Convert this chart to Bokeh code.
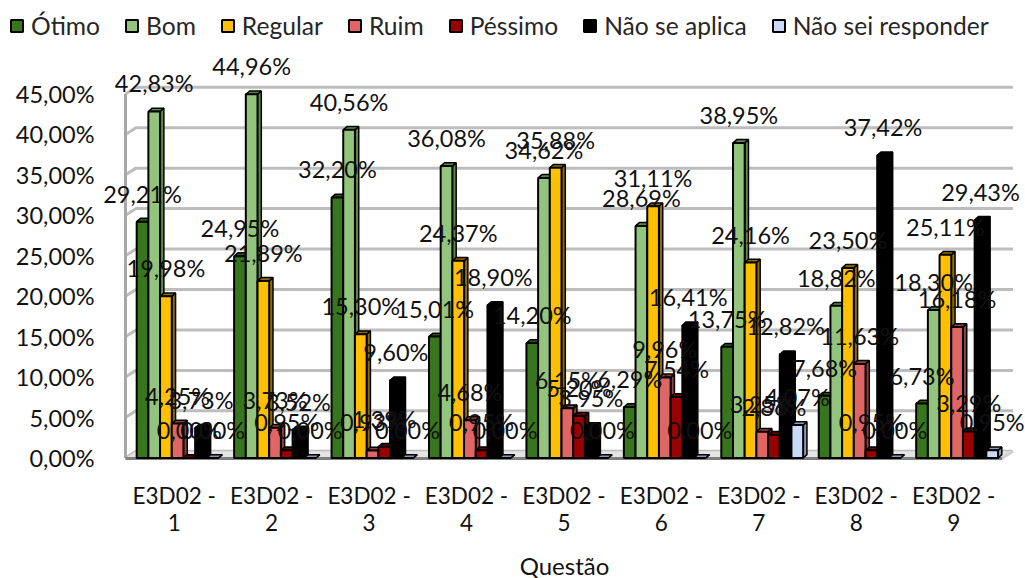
from bokeh.plotting import figure
from bokeh.models import Range1d, FixedTicker, Legend, LegendItem, ColumnDataSource
from bokeh.core.properties import value
from bokeh.embed import file_html
from bokeh.resources import INLINE

categories = ["E3D02 -\n1", "E3D02 -\n2", "E3D02 -\n3", "E3D02 -\n4", "E3D02 -\n5",
              "E3D02 -\n6", "E3D02 -\n7", "E3D02 -\n8", "E3D02 -\n9"]
otimo = [29.21, 24.95, 32.20, 15.01, 14.20, 6.29, 13.75, 7.68, 6.73]
bom = [42.83, 44.96, 40.56, 36.08, 34.62, 28.69, 38.95, 18.82, 18.30]
regular = [19.98, 21.89, 15.30, 24.37, 35.88, 31.11, 24.16, 23.50, 25.11]
ruim = [4.25, 3.73, 0.93, 4.68, 6.15, 9.96, 3.25, 11.63, 16.18]
pessimo = [0.00, 0.95, 1.39, 0.95, 5.20, 7.54, 2.86, 0.95, 3.29]
nao_aplica = [3.73, 3.52, 9.60, 18.90, 3.95, 16.41, 12.82, 37.42, 29.43]
nao_sei = [0.00, 0.00, 0.00, 0.00, 0.00, 0.00, 4.07, 0.00, 0.95]
y_ticks = [0, 5, 10, 15, 20, 25, 30, 35, 40, 45]

series = [("Ótimo", otimo, "#38761d", "#2a5916"),
          ("Bom", bom, "#93c47d", "#5a8a48"),
          ("Regular", regular, "#ffc000", "#8f6c00"),
          ("Ruim", ruim, "#e06666", "#8f4040"),
          ("Péssimo", pessimo, "#990000", "#660000"),
          ("Não se aplica", nao_aplica, "#000000", "#000000"),
          ("Não sei responder", nao_sei, "#c9daf8", "#8a98b3")]

FONT = "Lato"
FS = "23.5px"
BAR_W = 0.12
SHIFT = 0.035
DX, DY = 0.039, 0.41      # bar depth in data units
WX, WY = 0.108, 0.83      # chart depth in data units

p = figure(width=1025, height=578, output_backend="svg", toolbar_location=None,
           x_range=Range1d(-0.7826, 9.737), y_range=Range1d(-14.895, 56.55),
           min_border_left=0, min_border_right=0, min_border_top=0, min_border_bottom=0,
           outline_line_color=None, background_fill_color="white", border_fill_color="white")
p.grid.visible = False

# chart walls
gx, gy = [], []
for t in y_ticks:
    gx.append([0.5, 0.5 + WX, 9.5 + WX])
    gy.append([t, t + WY, t + WY])
p.multi_line(gx, gy, line_color="#bdbdbd", line_width=3)
p.line([0.5, 0.5], [0, 45], line_color="#a6a6a6", line_width=3)
p.patch([0.5, 0.5 + WX, 9.5 + WX, 9.5], [0, WY, WY, 0], fill_color="#e4e4e4", line_color=None)
p.line([0.5, 9.5], [-0.05, -0.05], line_color="#7f7f7f", line_width=3)
p.line([9.5, 9.5 + WX], [0, WY], line_color="#d0d0d0", line_width=3)

items = []
for k, (name, vals, col, dark) in enumerate(series):
    xs = [i + 1 + SHIFT + (k - 3) * BAR_W for i in range(len(vals))]
    hw = BAR_W / 2
    sx = [[x + hw, x + hw + DX, x + hw + DX, x + hw] for x in xs]
    sy = [[0, DY, v + DY, v] for v in vals]
    tx = [[x - hw, x - hw + DX, x + hw + DX, x + hw] for x in xs]
    ty = [[v, v + DY, v + DY, v] for v in vals]
    p.patches(sx, sy, fill_color=dark, line_color="black", line_width=1.5)
    p.patches(tx, ty, fill_color=dark, line_color="black", line_width=1.5)
    r = p.vbar(x=xs, top=vals, bottom=0, width=BAR_W, fill_color=col,
               line_color="black", line_width=2)
    items.append(LegendItem(label=name, renderers=[r]))

# data labels on top of everything
for k, (name, vals, col, dark) in enumerate(series):
    xs = [i + 1 + SHIFT + (k - 3) * BAR_W for i in range(len(vals))]
    src = ColumnDataSource(dict(x=xs, y=vals, t=[f"{v:.2f}%".replace(".", ",") for v in vals]))
    p.text("x", "y", text="t", source=src, text_align="center", text_baseline="middle",
           y_offset=-28, text_font=value(FONT), text_font_size=FS, text_color="#111111")

legend = Legend(items=items, orientation="horizontal", location=(9, 538),
                glyph_width=15, glyph_height=15, label_standoff=7, spacing=24,
                margin=0, padding=0, border_line_color=None, background_fill_alpha=0,
                label_text_font=FONT, label_text_font_size="24.6px", label_text_color="#262626")
p.add_layout(legend, "center")

yax = p.yaxis[0]
yax.fixed_location = 0.2436
yax.ticker = FixedTicker(ticks=y_ticks)
yax.major_label_overrides = {t: f"{t:.2f}%".replace(".", ",") for t in y_ticks}
yax.axis_line_color = None
yax.major_tick_line_color = None
yax.minor_tick_line_color = None
yax.major_label_standoff = 0
yax.major_label_text_font = FONT
yax.major_label_text_font_size = FS
yax.major_label_text_color = "#111111"

xax = p.xaxis[0]
xax.fixed_location = -0.309
xax.bounds = (0.5, 9.512)
xax.ticker = FixedTicker(ticks=list(range(1, 10)))
xax.major_label_overrides = {i + 1: c for i, c in enumerate(categories)}
xax.axis_line_color = None
xax.major_tick_line_color = None
xax.minor_tick_line_color = None
xax.major_label_standoff = 16
xax.major_label_text_font = FONT
xax.major_label_text_font_size = "22.5px"
xax.major_label_text_line_height = 1.0
xax.major_label_text_color = "#111111"
xax.axis_label = "Questão"
xax.axis_label_standoff = 11
xax.axis_label_text_font = FONT
xax.axis_label_text_font_size = "24px"
xax.axis_label_text_font_style = "normal"
xax.axis_label_text_color = "#111111"

open("out.html", "w").write(file_html(p, INLINE))
